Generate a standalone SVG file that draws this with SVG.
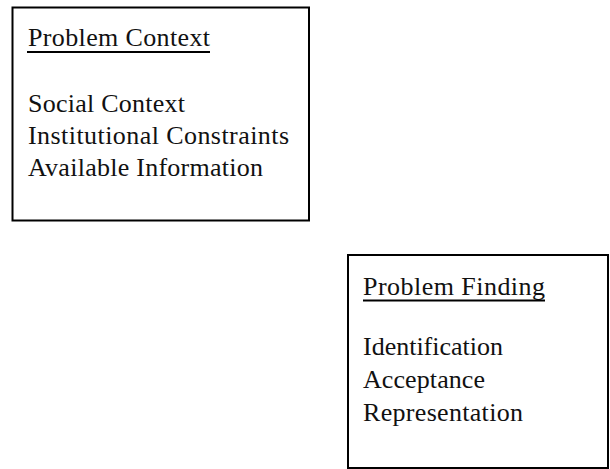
<svg xmlns="http://www.w3.org/2000/svg" width="610" height="469" viewBox="0 0 610 469">
  <style>
    .box { fill: #ffffff; stroke: #000000; stroke-width: 2; }
    .t { font-family: "Liberation Serif", "Times New Roman", serif; font-size: 26px; fill: #111111; }
    .ul { stroke: #000000; stroke-width: 2; }
  </style>
  <rect x="0" y="0" width="610" height="469" fill="#ffffff"/>
  <g id="problem-context">
    <rect class="box" x="12.5" y="7.5" width="296.5" height="213"/>
    <text class="t" x="28" y="45.5" textLength="182" lengthAdjust="spacing">Problem Context</text>
    <line class="ul" x1="27" y1="52" x2="210" y2="52"/>
    <text class="t" x="28" y="112" textLength="157" lengthAdjust="spacing">Social Context</text>
    <text class="t" x="28" y="144" textLength="261" lengthAdjust="spacing">Institutional Constraints</text>
    <text class="t" x="28" y="176" textLength="235" lengthAdjust="spacing">Available Information</text>
  </g>
  <g id="problem-finding">
    <rect class="box" x="348" y="255" width="260" height="213"/>
    <text class="t" x="363" y="295" textLength="182" lengthAdjust="spacing">Problem Finding</text>
    <line class="ul" x1="363" y1="300.5" x2="545" y2="300.5"/>
    <text class="t" x="363" y="355" textLength="140" lengthAdjust="spacing">Identification</text>
    <text class="t" x="363" y="388" textLength="122" lengthAdjust="spacing">Acceptance</text>
    <text class="t" x="363" y="421" textLength="160" lengthAdjust="spacing">Representation</text>
  </g>
  <g id="connectors"></g>
</svg>
